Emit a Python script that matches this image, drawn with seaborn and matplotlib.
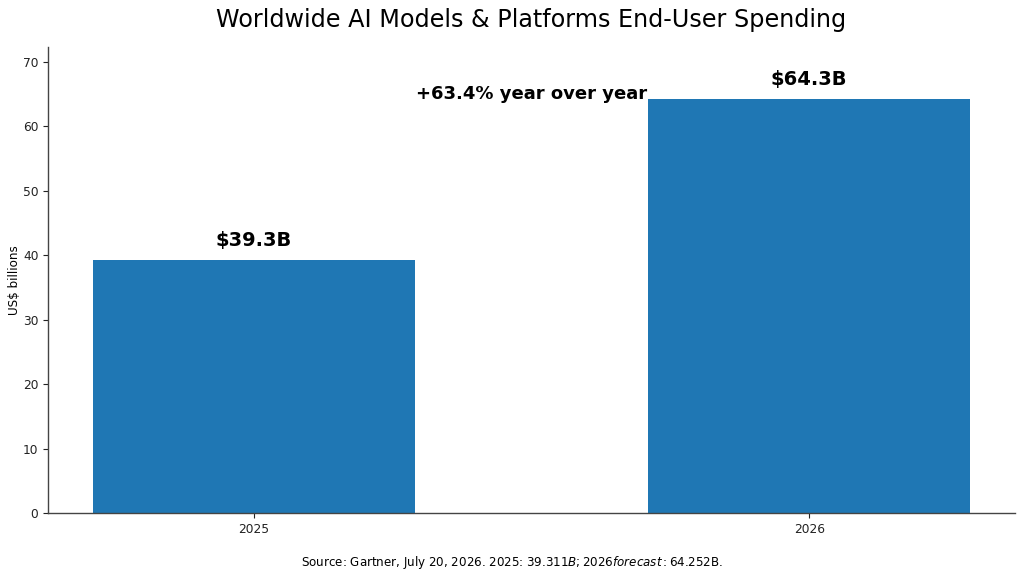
import matplotlib
matplotlib.use("Agg")
import matplotlib.pyplot as plt
import seaborn as sns
import pandas as pd

years = ["2025", "2026"]
spending = [39.311, 64.252]
value_labels = ["\\$39.3B", "\\$64.3B"]
growth_label = "+63.4% year over year"
title = "Worldwide AI Models & Platforms End-User Spending"
ylabel = "US$ billions"
source = "Source: Gartner, July 20, 2026. 2025: $39.311B; 2026 forecast: $64.252B."

df = pd.DataFrame({"year": years, "spend": spending})

fig, ax = plt.subplots(figsize=(10.24, 5.78), dpi=100)
sns.barplot(data=df, x="year", y="spend", color="#1f77b4", saturation=1,
            width=0.58, ax=ax)
ax.set_xlim(-0.37, 1.37)
ax.set_ylim(0, 72.2)
ax.set_xlabel("")
ax.set_ylabel(ylabel, fontsize=8.6, labelpad=1)
ax.tick_params(labelsize=8.8, colors="#222222")
ax.spines["top"].set_visible(False)
ax.spines["right"].set_visible(False)
for s in ("left", "bottom"):
    ax.spines[s].set_color("#444444")
    ax.spines[s].set_linewidth(1.0)
ax.set_title(title, fontsize=17.2, pad=15)

for i, (v, lab) in enumerate(zip(spending, value_labels)):
    ax.annotate(lab, (i, v), xytext=(0, 7), textcoords="offset points",
                ha="center", va="bottom", fontsize=14, fontweight="bold")

ax.text(0.5, 64.9, growth_label, ha="center", va="center",
        fontsize=13, fontweight="bold")

fig.text(0.5, 0.026, source, ha="center", va="center", fontsize=8.6)
fig.subplots_adjust(left=0.047, right=0.991, top=0.918, bottom=0.112)
fig.savefig("out.png", dpi=100)
